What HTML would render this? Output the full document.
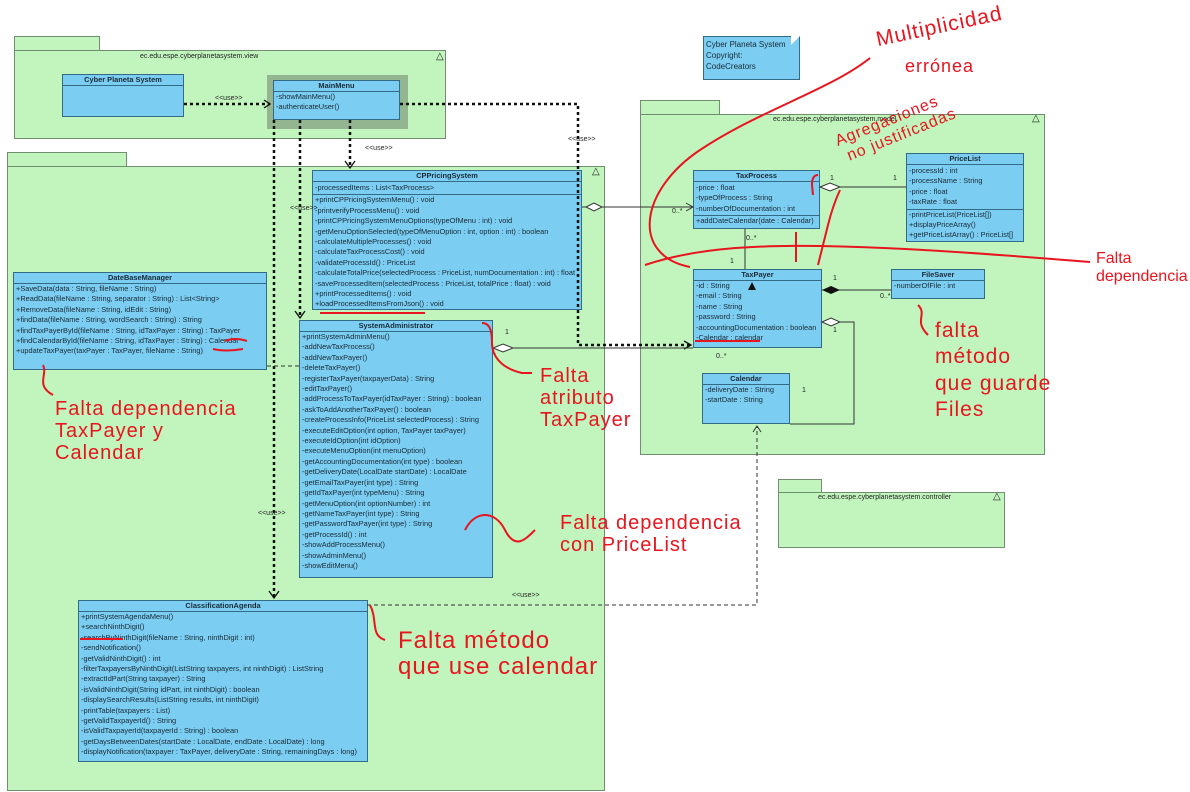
<!DOCTYPE html>
<html><head><meta charset="utf-8"><style>
body{margin:0;width:1190px;height:792px;background:#fff;position:relative;overflow:hidden;font-family:"Liberation Sans",sans-serif}
.p{position:absolute;background:#c2f5bd;border:1px solid #6f8f6f;box-sizing:border-box}
.c{position:absolute;background:#7bcdf2;border:1px solid #336a85;box-sizing:border-box;font-size:7.4px;color:#1a2a35;line-height:10.4px;overflow:hidden;white-space:nowrap}
.c .h{font-weight:bold;text-align:center;border-bottom:1px solid #336a85;height:10px;line-height:10px}
.c .s{border-bottom:1px solid #336a85;padding:1px 0}
.c div.l{padding-left:2px}
.t{position:absolute;font-size:7px;color:#222;white-space:nowrap}
.r{position:absolute;color:#e8141e;font-size:21px;white-space:nowrap;line-height:1.1;letter-spacing:1px}
</style></head><body>
<div class="p" style="left:14px;top:36px;width:86px;height:15px"></div>
<div class="p" style="left:14px;top:50px;width:432px;height:89px"></div>
<div class="t" style="left:140px;top:53px">ec.edu.espe.cyberplanetasystem.view</div>
<div class="t" style="left:436px;top:51px;font-size:10px">△</div>
<div class="c" style="left:62px;top:74px;width:122px;height:43px"><div class="h">Cyber Planeta System</div></div>
<div style="position:absolute;left:267px;top:75px;width:141px;height:54px;background:#93b58f"></div>
<div class="c" style="left:273px;top:80px;width:127px;height:40px"><div class="h">MainMenu</div><div class="l">-showMainMenu()</div><div class="l">-authenticateUser()</div></div>
<div class="p" style="left:7px;top:152px;width:120px;height:15px"></div>
<div class="p" style="left:7px;top:166px;width:598px;height:625px"></div>
<div class="t" style="left:592px;top:166px;font-size:10px">△</div>
<div class="p" style="left:640px;top:100px;width:80px;height:15px"></div>
<div class="p" style="left:640px;top:114px;width:405px;height:341px"></div>
<div class="t" style="left:773px;top:116px">ec.edu.espe.cyberplanetasystem.model</div>
<div class="t" style="left:1032px;top:113px;font-size:10px">△</div>
<div class="p" style="left:778px;top:479px;width:44px;height:14px"></div>
<div class="p" style="left:778px;top:492px;width:227px;height:56px"></div>
<div class="t" style="left:818px;top:494px">ec.edu.espe.cyberplanetasystem.controller</div>
<div class="t" style="left:993px;top:491px;font-size:10px">△</div>
<div class="c" style="left:703px;top:36px;width:97px;height:44px;padding:2px;font-size:8px;line-height:11px">Cyber Planeta System<br>Copyright:<br>CodeCreators</div>
<div style="position:absolute;left:791px;top:35px;width:0;height:0;border-left:10px solid #fff;border-bottom:10px solid transparent"></div>

<div class="c" style="left:312px;top:170px;width:270px;height:140px"><div class="h">CPPricingSystem</div><div class="s l">-processedItems : List&lt;TaxProcess&gt;</div>
<div class="l">+printCPPricingSystemMenu() : void</div><div class="l">-printverifyProcessMenu() : void</div><div class="l">-printCPPricingSystemMenuOptions(typeOfMenu : int) : void</div><div class="l">-getMenuOptionSelected(typeOfMenuOption : int, option : int) : boolean</div><div class="l">-calculateMultipleProcesses() : void</div><div class="l">-calculateTaxProcessCost() : void</div><div class="l">-validateProcessId() : PriceList</div><div class="l">-calculateTotalPrice(selectedProcess : PriceList, numDocumentation : int) : float</div><div class="l">-saveProcessedItem(selectedProcess : PriceList, totalPrice : float) : void</div><div class="l">+printProcessedItems() : void</div><div class="l">+loadProcessedItemsFromJson() : void</div></div>

<div class="c" style="left:299px;top:320px;width:194px;height:258px"><div class="h">SystemAdministrator</div>
<div class="l">+printSystemAdminMenu()</div><div class="l">-addNewTaxProcess()</div><div class="l">-addNewTaxPayer()</div><div class="l">-deleteTaxPayer()</div><div class="l">-registerTaxPayer(taxpayerData) : String</div><div class="l">-editTaxPayer()</div><div class="l">-addProcessToTaxPayer(idTaxPayer : String) : boolean</div><div class="l">-askToAddAnotherTaxPayer() : boolean</div><div class="l">-createProcessInfo(PriceList selectedProcess) : String</div><div class="l">-executeEditOption(int option, TaxPayer taxPayer)</div><div class="l">-executeIdOption(int idOption)</div><div class="l">-executeMenuOption(int menuOption)</div><div class="l">-getAccountingDocumentation(int type) : boolean</div><div class="l">-getDeliveryDate(LocalDate startDate) : LocalDate</div><div class="l">-getEmailTaxPayer(int type) : String</div><div class="l">-getIdTaxPayer(int typeMenu) : String</div><div class="l">-getMenuOption(int optionNumber) : int</div><div class="l">-getNameTaxPayer(int type) : String</div><div class="l">-getPasswordTaxPayer(int type) : String</div><div class="l">-getProcessId() : int</div><div class="l">-showAddProcessMenu()</div><div class="l">-showAdminMenu()</div><div class="l">-showEditMenu()</div></div>

<div class="c" style="left:13px;top:272px;width:254px;height:98px"><div class="h">DateBaseManager</div>
<div class="l">+SaveData(data : String, fileName : String)</div><div class="l">+ReadData(fileName : String, separator : String) : List&lt;String&gt;</div><div class="l">+RemoveData(fileName : String, idEdit : String)</div><div class="l">+findData(fileName : String, wordSearch : String) : String</div><div class="l">+findTaxPayerById(fileName : String, idTaxPayer : String) : TaxPayer</div><div class="l">+findCalendarById(fileName : String, idTaxPayer : String) : Calendar</div><div class="l">+updateTaxPayer(taxPayer : TaxPayer, fileName : String)</div></div>

<div class="c" style="left:78px;top:600px;width:290px;height:162px"><div class="h">ClassificationAgenda</div>
<div class="l">+printSystemAgendaMenu()</div><div class="l">+searchNinthDigit()</div><div class="l">-searchByNinthDigit(fileName : String, ninthDigit : int)</div><div class="l">-sendNotification()</div><div class="l">-getValidNinthDigit() : int</div><div class="l">-filterTaxpayersByNinthDigit(ListString taxpayers, int ninthDigit) : ListString</div><div class="l">-extractIdPart(String taxpayer) : String</div><div class="l">-isValidNinthDigit(String idPart, int ninthDigit) : boolean</div><div class="l">-displaySearchResults(ListString results, int ninthDigit)</div><div class="l">-printTable(taxpayers : List)</div><div class="l">-getValidTaxpayerId() : String</div><div class="l">-isValidTaxpayerId(taxpayerId : String) : boolean</div><div class="l">-getDaysBetweenDates(startDate : LocalDate, endDate : LocalDate) : long</div><div class="l">-displayNotification(taxpayer : TaxPayer, deliveryDate : String, remainingDays : long)</div></div>

<div class="c" style="left:693px;top:170px;width:127px;height:59px"><div class="h">TaxProcess</div><div class="s l">-price : float<br>-typeOfProcess : String<br>-numberOfDocumentation : int</div><div class="l">+addDateCalendar(date : Calendar)</div></div>
<div class="c" style="left:906px;top:153px;width:118px;height:89px"><div class="h">PriceList</div><div class="s l">-processId : int<br>-processName : String<br>-price : float<br>-taxRate : float</div><div class="l">-printPriceList(PriceList[])<br>+displayPriceArray()<br>+getPriceListArray() : PriceList[]</div></div>
<div class="c" style="left:693px;top:269px;width:129px;height:79px"><div class="h">TaxPayer</div><div class="l">-id : String<br>-email : String<br>-name : String<br>-password : String<br>-accountingDocumentation : boolean<br>-Calendar : calendar</div></div>
<div class="c" style="left:891px;top:269px;width:94px;height:30px"><div class="h">FileSaver</div><div class="l">-numberOfFile : int</div></div>
<div class="c" style="left:702px;top:373px;width:88px;height:51px"><div class="h">Calendar</div><div class="l">-deliveryDate : String<br>-startDate : String</div></div>

<svg width="1190" height="792" style="position:absolute;left:0;top:0" font-family="Liberation Sans" font-size="7">
<g stroke="#111" stroke-width="2.5" stroke-dasharray="3,3" fill="none">
<path d="M184 104H270"/><path d="M400 104H578V345H690"/>
<path d="M274 120V597"/><path d="M300 120V317"/><path d="M350 120V167"/>
</g>
<g fill="none" stroke="#111" stroke-width="1.3">
<path d="M264 100l6 4-6 4"/><path d="M684 341l7 4-7 4"/><path d="M269 591l5 7 5-7"/><path d="M295 311l5 7 5-7"/><path d="M345 161l5 7 5-7"/>
</g>
<g stroke="#333" stroke-width="1" fill="none">
<path d="M582 207H693"/><path d="M686 203l7 4-7 4"/>
<path d="M493 348H693"/>
<path d="M820 187H906"/>
<path d="M745 229V269"/>
<path d="M822 290H891"/>
<path d="M822 322H854V424H790"/>
<path d="M367 605H757V427" stroke-dasharray="4,3"/><path d="M753 432l4-6 4 6"/>
<path d="M267 366H299" stroke-dasharray="4,3"/>
</g>
<g stroke="#333" fill="#fff"><path d="M586 207l8-4 8 4-8 4z"/><path d="M493 348l10-4 10 4-10 4z"/><path d="M820 187l10-4 10 4-10 4z"/><path d="M822 322l9-4 9 4-9 4z"/></g>
<path d="M822 290l9-4 9 4-9 4z" fill="#111"/>
<path d="M748 290l4-8 4 8z" fill="#111"/>
<g fill="#222"><text x="365" y="150">&lt;&lt;use&gt;&gt;</text><text x="215" y="100">&lt;&lt;use&gt;&gt;</text><text x="568" y="141">&lt;&lt;use&gt;&gt;</text><text x="290" y="210">&lt;&lt;use&gt;&gt;</text><text x="258" y="515">&lt;&lt;use&gt;&gt;</text><text x="512" y="597">&lt;&lt;use&gt;&gt;</text>
<text x="505" y="334">1</text><text x="672" y="213">0..*</text><text x="716" y="358">0..*</text><text x="830" y="180">1</text><text x="893" y="180">1</text><text x="746" y="240">0..*</text><text x="730" y="263">1</text><text x="833" y="280">1</text><text x="880" y="298">0..*</text><text x="833" y="332">1</text><text x="802" y="392">1</text></g>
<g stroke="#e8141e" stroke-width="2" fill="none">
<path d="M320 313H425"/><path d="M695 341H760"/><path d="M80 639H123"/><path d="M225 341q10-4 22 0"/><path d="M213 349q12 3 30 0"/>
<path d="M818 175q-6 0-6 10l1 10"/><path d="M870 58C830 90 760 110 700 150S630 255 690 267"/>
<path d="M645 265C720 240 820 240 1090 262"/><path d="M818 265q5-20 10-40t12-35"/>
<path d="M482 323c8 0 10 8 10 20s8 25 30 30h10"/><path d="M465 530c10-20 30-20 40 0s20 10 30 0"/>
<path d="M370 605c8 15 0 30 15 35"/><path d="M43 365c5 10-8 20 10 30"/><path d="M918 305c10 10-5 15 10 30"/>
<path d="M796 232v30"/>
</g>
</svg>
<div class="r" style="left:875px;top:15px;transform:rotate(-12deg)">Multiplicidad</div>
<div class="r" style="left:905px;top:57px;font-size:18px">errónea</div>
<div class="r" style="left:835px;top:110px;font-size:16px;transform:rotate(-22deg)">Agregaciones<br>&nbsp;no justificadas</div>
<div class="r" style="left:1096px;top:250px;font-size:16px;letter-spacing:0">Falta<br>dependencia</div>
<div class="r" style="left:540px;top:365px;font-size:20px">Falta<br>atributo<br>TaxPayer</div>
<div class="r" style="left:55px;top:398px;font-size:20px">Falta dependencia<br>TaxPayer y<br>Calendar</div>
<div class="r" style="left:935px;top:318px;font-size:21px;line-height:1.25">falta<br>método<br>que guarde<br>Files</div>
<div class="r" style="left:560px;top:512px;font-size:20px">Falta dependencia<br>con PriceList</div>
<div class="r" style="left:398px;top:628px;font-size:24px">Falta método<br>que use calendar</div>
</body></html>
